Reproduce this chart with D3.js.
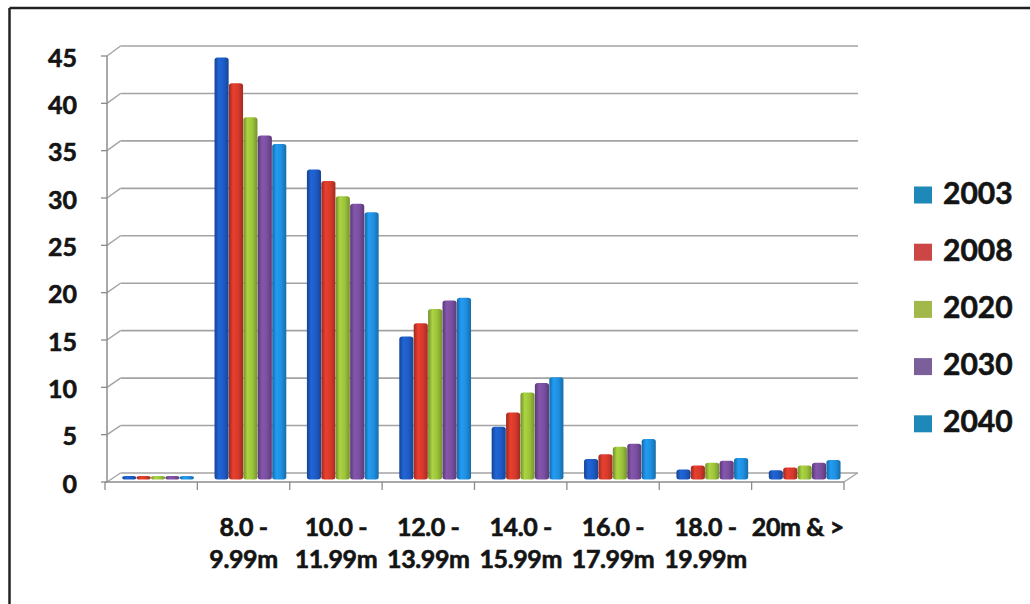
<!DOCTYPE html>
<html>
<head>
<meta charset="utf-8">
<script src="https://cdn.jsdelivr.net/npm/d3@7"></script>
<style>
  html, body { margin: 0; padding: 0; background: #fff; }
  svg { display: block; }
  text { font-family: Lato, "Open Sans", sans-serif; font-weight: 700; fill: #141414;
         stroke: #141414; stroke-width: 0.6px; }
</style>
</head>
<body>
<svg id="chart" width="1030" height="604"></svg>
<script>
// Length classes (first class has no label)
const categories = ["", "8.0 -\n9.99m", "10.0 -\n11.99m", "12.0 -\n13.99m", "14.0 -\n15.99m",
                    "16.0 -\n17.99m", "18.0 -\n19.99m", "20m & >"];
const years = ["2003", "2008", "2020", "2030", "2040"];

// Share per length class, one array per year
const v2003 = [0.1, 44.2, 32.4, 14.8, 5.3, 1.9, 0.8, 0.7];
const v2008 = [0.1, 41.5, 31.2, 16.2, 6.8, 2.4, 1.2, 1.0];
const v2020 = [0.1, 37.9, 29.6, 17.7, 8.9, 3.2, 1.5, 1.2];
const v2030 = [0.1, 36.0, 28.8, 18.6, 9.9, 3.5, 1.7, 1.5];
const v2040 = [0.1, 35.1, 27.9, 18.9, 10.5, 4.0, 2.0, 1.8];
const seriesValues = [v2003, v2008, v2020, v2030, v2040];

const yTicks = [0, 5, 10, 15, 20, 25, 30, 35, 40, 45];

// Bar and legend colours
const barColors = ["#1d5cc6", "#d63a2b", "#9cc33b", "#7a4f9f", "#1f8fdf"];
const legendColors = ["#1e88b8", "#cc4646", "#a3b84b", "#7b5f9b", "#1e88b8"];

const svg = d3.select("#chart");

// Outer frame (top and left edges)
svg.append("line").attr("x1", 9.5).attr("y1", 8).attr("x2", 1030).attr("y2", 8)
  .attr("stroke", "#222").attr("stroke-width", 2.5);
svg.append("line").attr("x1", 9.5).attr("y1", 8).attr("x2", 9.5).attr("y2", 604)
  .attr("stroke", "#222").attr("stroke-width", 2.5);

// Pseudo-3D geometry: front plane, back wall, and bar depth
const depthX = 13.5;
const yFront = d3.scaleLinear().domain([0, 45]).range([482, 56]);
const yBack  = d3.scaleLinear().domain([0, 45]).range([473, 46]);
const yBar   = d3.scaleLinear().domain([0, 45]).range([477, 50]);
const barBase = 479.5;

const xFront = d3.scaleBand().domain(categories).range([105, 844]);
const xBars = d3.scaleBand().domain(categories).range([105 + 7, 844 + 7])
  .paddingInner(0.22).paddingOuter(0.11);
const xSeries = d3.scaleBand().domain(years).range([0, xBars.bandwidth()]);

const gridColor = "#a3a3a3";
const axisColor = "#8c8c8c";

// Back-wall gridlines with their connectors to the front axis
const grid = svg.append("g");
yTicks.forEach(t => {
  grid.append("line")
    .attr("x1", 107 + depthX).attr("x2", 844 + depthX + 0.5)
    .attr("y1", yBack(t)).attr("y2", yBack(t))
    .attr("stroke", gridColor).attr("stroke-width", 1.6);
  grid.append("line")
    .attr("x1", 107).attr("y1", yFront(t))
    .attr("x2", 107 + depthX).attr("y2", yBack(t))
    .attr("stroke", gridColor).attr("stroke-width", 1.4);
});
// right edge of the floor
grid.append("line")
  .attr("x1", 844).attr("y1", yFront(0))
  .attr("x2", 844 + depthX).attr("y2", yBack(0))
  .attr("stroke", gridColor).attr("stroke-width", 1.4);

// Cylinder shading gradients
const defs = svg.append("defs");
barColors.forEach((c, i) => {
  const base = d3.color(c);
  const g = defs.append("linearGradient").attr("id", "bar" + i)
    .attr("x1", "0%").attr("x2", "100%").attr("y1", "0%").attr("y2", "0%");
  g.append("stop").attr("offset", "0%").attr("stop-color", base.darker(0.9));
  g.append("stop").attr("offset", "30%").attr("stop-color", base.brighter(0.25));
  g.append("stop").attr("offset", "65%").attr("stop-color", base);
  g.append("stop").attr("offset", "100%").attr("stop-color", base.darker(0.8));
});

// Bars
const bars = svg.append("g");
categories.forEach((cat, ci) => {
  years.forEach((yr, si) => {
    const v = seriesValues[si][ci];
    const x = xBars(cat) + xSeries(yr);
    const top = Math.min(yBar(v), barBase - 3.5);
    bars.append("rect")
      .attr("x", x).attr("y", top)
      .attr("width", xSeries.bandwidth() - 0.3)
      .attr("height", barBase - top)
      .attr("rx", 3).attr("ry", 2.5)
      .attr("fill", `url(#bar${si})`);
  });
});

// Front y axis
const axY = svg.append("g");
axY.append("line").attr("x1", 107).attr("x2", 107)
  .attr("y1", yFront(45)).attr("y2", yFront(0))
  .attr("stroke", axisColor).attr("stroke-width", 1.5);
yTicks.forEach(t => {
  axY.append("line").attr("x1", 101).attr("x2", 107)
    .attr("y1", yFront(t)).attr("y2", yFront(t))
    .attr("stroke", axisColor).attr("stroke-width", 1.3);
  axY.append("text").attr("x", 77).attr("y", yFront(t) + 10.5)
    .attr("text-anchor", "end").attr("font-size", 25).text(t);
});

// Front x axis (floor edge)
const axX = svg.append("g");
axX.append("line").attr("x1", 105).attr("x2", 844)
  .attr("y1", yFront(0)).attr("y2", yFront(0))
  .attr("stroke", axisColor).attr("stroke-width", 1.5);
const tickXs = categories.map(c => xFront(c)).concat([xFront.range()[1]]);
tickXs.forEach(x => {
  axX.append("line").attr("x1", x).attr("x2", x)
    .attr("y1", yFront(0)).attr("y2", yFront(0) + 8)
    .attr("stroke", axisColor).attr("stroke-width", 1.3);
});
categories.forEach(cat => {
  const cx = xFront(cat) + xFront.bandwidth() / 2;
  cat.split("\n").forEach((line, li) => {
    axX.append("text").attr("x", cx).attr("y", 535.5 + li * 32.5)
      .attr("text-anchor", "middle").attr("font-size", 25)
      .attr("letter-spacing", "-0.4px")
      .text(line);
  });
});

// Legend
const legend = svg.append("g");
years.forEach((yr, i) => {
  const by = 203.5 + i * 57.2;
  legend.append("rect").attr("x", 914).attr("y", by - 17)
    .attr("width", 18).attr("height", 17).attr("fill", legendColors[i]);
  legend.append("text").attr("x", 943).attr("y", by)
    .attr("font-size", 30).text(yr);
});
</script>
</body>
</html>
